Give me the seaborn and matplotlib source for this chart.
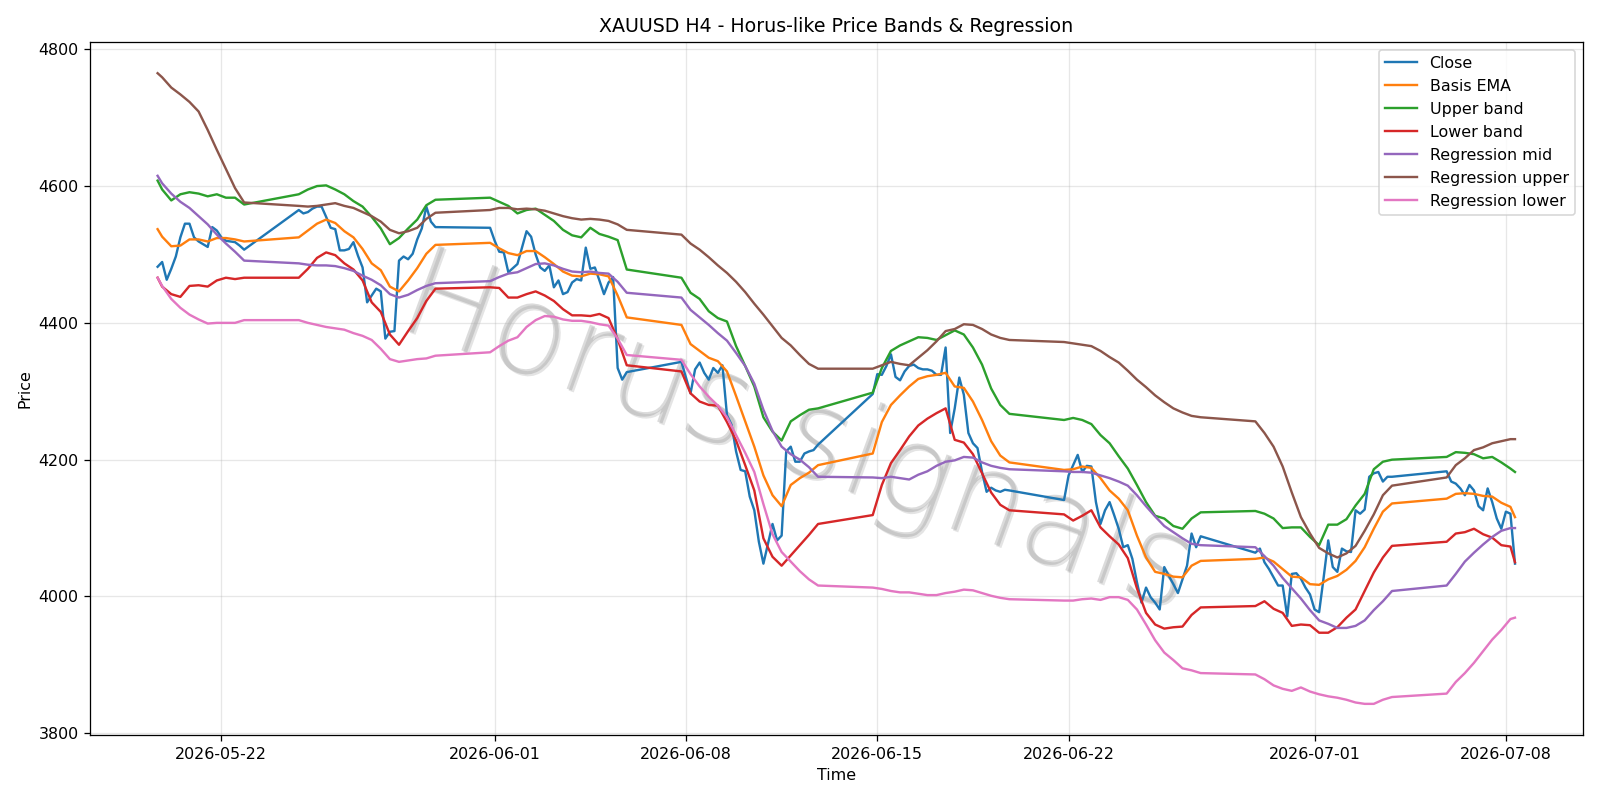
import numpy as np
import pandas as pd
import matplotlib
matplotlib.use("Agg")
import matplotlib.pyplot as plt
import matplotlib.patheffects as pe
from matplotlib import font_manager as fm
from matplotlib.textpath import TextPath
import seaborn as sns

# H4 bars (UTC): weekdays plus the Sunday 20:00 open bar
t_close = pd.date_range("2026-05-19 16:00", "2026-07-08 08:00", freq="4h")
t_close = t_close[(t_close.dayofweek < 5) | ((t_close.dayofweek == 6) & (t_close.hour == 20))]

# bands are read every second bar (04/12/20h) plus the first and last bar
keep = t_close.hour.isin([4, 12, 20])
keep[0] = True
keep[-1] = True
t_bands = t_close[keep]

close = [
    # 05-19 .. 05-22
    4482, 4489, 4463, 4479, 4497, 4525, 4545, 4545, 4525, 4519,
    4515, 4511, 4540, 4535, 4525, 4520, 4519, 4518, 4513, 4507,
    # 05-24 .. 05-29
    4565, 4560, 4562, 4567, 4570, 4570, 4555, 4539, 4537, 4506, 4506,
    4508, 4518, 4498, 4481, 4430, 4440, 4450, 4446, 4377, 4387, 4388,
    4491, 4497, 4493, 4501, 4522, 4538, 4570, 4548, 4540,
    # 05-31 .. 06-05
    4539, 4520, 4504, 4503, 4474, 4480, 4486, 4510, 4534, 4526, 4500,
    4481, 4476, 4484, 4452, 4462, 4442, 4445, 4459, 4464, 4462, 4510,
    4479, 4481, 4462, 4442, 4459, 4467, 4334, 4317, 4328,
    # 06-07 .. 06-12
    4343, 4320, 4297, 4332, 4342, 4327, 4317, 4334, 4327, 4338, 4265,
    4251, 4212, 4185, 4183, 4146, 4126, 4080, 4048, 4077, 4106, 4082,
    4089, 4212, 4219, 4197, 4197, 4209, 4212, 4214, 4222,
    # 06-14 .. 06-19
    4296, 4325, 4324, 4337, 4354, 4321, 4316, 4329, 4337, 4339, 4334,
    4332, 4332, 4330, 4324, 4324, 4364, 4239, 4275, 4320, 4295, 4239,
    4224, 4217, 4182, 4153, 4159, 4155, 4153, 4156, 4155,
    # 06-21 .. 06-26
    4141, 4177, 4192, 4207, 4182, 4191, 4190, 4138, 4106, 4126, 4138,
    4119, 4099, 4072, 4075, 4055, 4021, 3991, 4013, 3999, 3991, 3981,
    4043, 4030, 4018, 4005, 4025, 4045, 4092, 4072, 4088,
    # 06-28 .. 07-03
    4064, 4070, 4050, 4040, 4028, 4016, 4016, 3971, 4033, 4034, 4026,
    4013, 4003, 3981, 3977, 4028, 4082, 4043, 4036, 4070, 4066, 4065,
    4126, 4121, 4127, 4175, 4180, 4182, 4168, 4175, 4175,
    # 07-05 .. 07-08
    4183, 4168, 4165, 4158, 4148, 4163, 4155, 4132, 4126, 4158, 4138,
    4114, 4099, 4124, 4121, 4048,
]

basis_ema = [
    4537, 4526, 4512, 4513, 4522, 4522, 4519, 4524, 4524, 4522, 4519,
    4525, 4535, 4545, 4551, 4546, 4534, 4525, 4508, 4487, 4477, 4453, 4446, 4462, 4480, 4501, 4514,
    4517, 4509, 4502, 4499, 4505, 4505, 4496, 4486, 4475, 4469, 4468, 4472, 4471, 4468, 4440, 4408,
    4397, 4369, 4359, 4349, 4344, 4329, 4293, 4256, 4219, 4177, 4148, 4132, 4163, 4173, 4181, 4192,
    4209, 4255, 4280, 4294, 4307, 4318, 4322, 4324, 4327, 4307, 4305, 4285, 4258, 4227, 4206, 4196,
    4185, 4186, 4190, 4188, 4173, 4155, 4143, 4126, 4089, 4057, 4036, 4033, 4029, 4028, 4045, 4052,
    4055, 4057, 4051, 4040, 4029, 4028, 4018, 4017, 4025, 4030, 4039, 4052, 4072, 4099, 4124, 4136,
    4143, 4150, 4151, 4150, 4147, 4146, 4137, 4131, 4116,
]

upper_band = [
    4608, 4595, 4579, 4588, 4591, 4589, 4585, 4588, 4583, 4583, 4573,
    4588, 4595, 4600, 4601, 4595, 4588, 4578, 4570, 4555, 4538, 4515, 4524, 4538, 4551, 4572, 4580,
    4583, 4577, 4571, 4560, 4565, 4567, 4558, 4549, 4536, 4528, 4525, 4539, 4530, 4526, 4521, 4478,
    4466, 4444, 4435, 4417, 4407, 4402, 4366, 4337, 4307, 4262, 4241, 4228, 4256, 4265, 4273, 4275,
    4298, 4334, 4359, 4367, 4373, 4379, 4378, 4375, 4382, 4389, 4383, 4364, 4339, 4304, 4280, 4267,
    4258, 4261, 4258, 4252, 4236, 4224, 4205, 4187, 4163, 4138, 4118, 4114, 4103, 4099, 4114, 4123,
    4125, 4121, 4114, 4100, 4101, 4101, 4087, 4075, 4105, 4105, 4113, 4133, 4150, 4186, 4197, 4200,
    4204, 4211, 4210, 4208, 4202, 4204, 4196, 4187, 4182,
]

lower_band = [
    4466, 4453, 4442, 4438, 4454, 4455, 4453, 4462, 4466, 4464, 4466,
    4466, 4479, 4495, 4503, 4499, 4487, 4478, 4462, 4430, 4416, 4383, 4368, 4388, 4407, 4432, 4450,
    4452, 4451, 4437, 4437, 4442, 4446, 4440, 4432, 4420, 4411, 4411, 4410, 4413, 4407, 4376, 4338,
    4329, 4297, 4285, 4280, 4279, 4255, 4228, 4192, 4155, 4085, 4058, 4045, 4060, 4075, 4090, 4106,
    4119, 4163, 4195, 4214, 4234, 4250, 4260, 4268, 4275, 4229, 4225, 4208, 4180, 4152, 4134, 4126,
    4120, 4111, 4118, 4126, 4101, 4088, 4076, 4056, 4012, 3976, 3959, 3953, 3955, 3956, 3973, 3984,
    3986, 3993, 3982, 3976, 3957, 3959, 3958, 3947, 3947, 3955, 3969, 3981, 4008, 4035, 4057, 4074,
    4080, 4092, 4094, 4099, 4091, 4086, 4075, 4073, 4050,
]

reg_mid = [
    4615, 4604, 4589, 4577, 4568, 4556, 4544, 4529, 4516, 4504, 4491,
    4487, 4485, 4484, 4484, 4483, 4480, 4476, 4469, 4463, 4455, 4442, 4437, 4441, 4448, 4454, 4458,
    4461, 4467, 4472, 4474, 4480, 4486, 4487, 4484, 4479, 4475, 4474, 4475, 4473, 4472, 4460, 4444,
    4437, 4419, 4408, 4397, 4385, 4374, 4356, 4337, 4311, 4273, 4242, 4219, 4208, 4200, 4189, 4175,
    4174, 4173, 4175, 4173, 4171, 4178, 4183, 4191, 4197, 4199, 4204, 4203, 4196, 4191, 4188, 4186,
    4183, 4182, 4182, 4181, 4177, 4173, 4168, 4162, 4148, 4132, 4117, 4103, 4094, 4085, 4077, 4075,
    4072, 4059, 4045, 4027, 4012, 3997, 3980, 3965, 3960, 3954, 3954, 3957, 3965, 3980, 3993, 4008,
    4016, 4033, 4051, 4064, 4076, 4087, 4096, 4100, 4100,
]

reg_upper = [
    4765, 4759, 4744, 4734, 4723, 4709, 4682, 4653, 4625, 4597, 4576,
    4571, 4570, 4571, 4573, 4575, 4571, 4568, 4562, 4556, 4548, 4536, 4531, 4534, 4539, 4552, 4561,
    4565, 4568, 4568, 4566, 4567, 4566, 4564, 4560, 4556, 4553, 4551, 4552, 4551, 4549, 4544, 4536,
    4529, 4516, 4507, 4496, 4484, 4473, 4460, 4445, 4428, 4412, 4395, 4378, 4367, 4353, 4340, 4333,
    4333, 4338, 4343, 4340, 4338, 4349, 4360, 4373, 4388, 4391, 4398, 4397, 4391, 4383, 4378, 4375,
    4372, 4370, 4368, 4366, 4359, 4350, 4342, 4330, 4317, 4306, 4294, 4284, 4275, 4269, 4264, 4262,
    4256, 4239, 4219, 4190, 4152, 4116, 4092, 4071, 4063, 4057, 4063, 4074, 4096, 4120, 4148, 4162,
    4174, 4192, 4202, 4214, 4218, 4224, 4227, 4230, 4230,
]

reg_lower = [
    4466, 4454, 4435, 4422, 4412, 4405, 4399, 4400, 4400, 4400, 4404,
    4404, 4400, 4397, 4394, 4392, 4390, 4385, 4381, 4375, 4362, 4347, 4343, 4345, 4347, 4348, 4352,
    4357, 4366, 4374, 4379, 4394, 4404, 4410, 4409, 4405, 4403, 4403, 4401, 4398, 4396, 4377, 4353,
    4346, 4325, 4307, 4292, 4279, 4262, 4236, 4210, 4182, 4135, 4091, 4065, 4051, 4037, 4025, 4016,
    4013, 4011, 4008, 4006, 4006, 4004, 4002, 4002, 4005, 4007, 4010, 4009, 4005, 4001, 3998, 3996,
    3994, 3994, 3996, 3997, 3995, 3999, 3999, 3995, 3981, 3959, 3936, 3918, 3907, 3895, 3892, 3888,
    3886, 3879, 3870, 3865, 3862, 3867, 3861, 3857, 3854, 3852, 3849, 3845, 3843, 3843, 3849, 3853,
    3858, 3875, 3888, 3903, 3920, 3937, 3951, 3967, 3969,
]

series = [
    ("Close", t_close, close),
    ("Basis EMA", t_bands, basis_ema),
    ("Upper band", t_bands, upper_band),
    ("Lower band", t_bands, lower_band),
    ("Regression mid", t_bands, reg_mid),
    ("Regression upper", t_bands, reg_upper),
    ("Regression lower", t_bands, reg_lower),
]


def watermark_font():
    # a thin upright face if one is installed, plain DejaVu otherwise
    for fam in ["DejaVu Sans", "Open Sans", "Roboto", "Lato", "Noto Sans", "Inter"]:
        for f in fm.fontManager.ttflist:
            w = f.weight if isinstance(f.weight, int) else 400
            if f.name == fam and f.style == "normal" and w <= 300:
                return fm.FontProperties(fname=f.fname)
    return fm.FontProperties(family="DejaVu Sans")


DPI = 800 / 7
fig, ax = plt.subplots(figsize=(14, 7), dpi=DPI)
colors = plt.rcParams["axes.prop_cycle"].by_key()["color"]

for i, (name, t, vals) in enumerate(series):
    n = min(len(t), len(vals))
    sns.lineplot(x=t[:n], y=vals[:n], ax=ax, label=name, color=colors[i],
                 estimator=None, sort=False)

# watermark, scaled so the word is about 810 px long
wm = "Horus signals"
wm_font = watermark_font()
unit_w = TextPath((0, 0), wm, size=1, prop=wm_font).get_extents().width
wm_font.set_size(810 / unit_w * 72 / DPI)
ax.text(0.466, 0.385, wm, transform=ax.transAxes, fontproperties=wm_font,
        rotation=-20, rotation_mode="anchor", ha="center", va="baseline",
        color="gray", alpha=0.28, zorder=0,
        path_effects=[pe.SimplePatchShadow(offset=(1.2, -1.2), alpha=0.12), pe.Normal()])

ax.set_title("XAUUSD H4 - Horus-like Price Bands & Regression")
ax.set_xlabel("Time")
ax.set_ylabel("Price")
ax.grid(True, alpha=0.3)
ax.legend(loc="upper right")

fig.tight_layout()
fig.savefig("out.png", dpi=DPI)
